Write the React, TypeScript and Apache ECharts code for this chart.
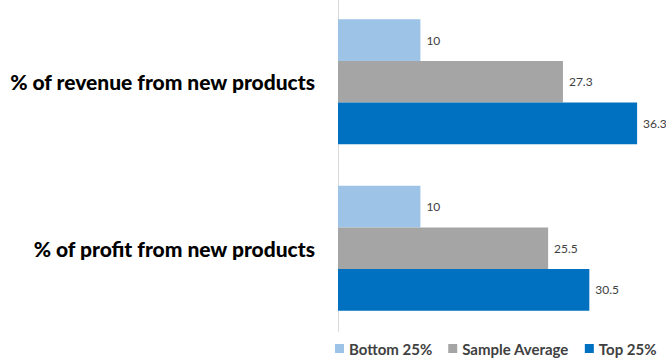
import React, { useEffect, useRef } from "react";
import * as echarts from "echarts";

const categories = ["% of revenue from new products", "% of profit from new products"];
const seriesNames = ["Bottom 25%", "Sample Average", "Top 25%"];
const bottom25 = [10, 10];
const sampleAverage = [27.3, 25.5];
const top25 = [36.3, 30.5];
const colors = ["#9DC3E6", "#A5A5A5", "#0070C0"];

export default function App() {
  const ref = useRef<HTMLDivElement>(null);
  useEffect(() => {
    if (!ref.current) return;
    const chart = echarts.init(ref.current, null, { renderer: "svg" });
    const values = [bottom25, sampleAverage, top25];
    chart.setOption({
      animation: false,
      backgroundColor: "#FFFFFF",
      grid: {
        left: 338,
        top: -1.5,
        width: 329.6,
        height: 333,
        containLabel: false,
        outerBoundsMode: "none",
      },
      xAxis: {
        type: "value",
        min: 0,
        max: 40,
        show: false,
        splitLine: { show: false },
      },
      yAxis: {
        type: "category",
        inverse: true,
        data: categories,
        axisLine: { show: true, lineStyle: { color: "#D9D9D9", width: 1 } },
        axisTick: { show: false },
        axisLabel: {
          margin: 23,
          color: "#000000",
          fontFamily: "Lato",
          fontWeight: 900,
          fontSize: 21,
        },
      },
      legend: {
        data: seriesNames,
        left: 335,
        top: 341,
        width: 331,
        padding: 0,
        icon: "rect",
        itemWidth: 9,
        itemHeight: 9,
        itemGap: 16,
        textStyle: {
          color: "#404040",
          fontFamily: "Lato",
          fontWeight: "bold",
          fontSize: 15,
        },
      },
      series: seriesNames.map((name, i) => ({
        name,
        type: "bar",
        data: values[i],
        barGap: "0%",
        barCategoryGap: "25%",
        itemStyle: { color: colors[i] },
        label: {
          show: true,
          position: "right",
          distance: 6,
          color: "#404040",
          fontFamily: "Lato",
          fontSize: 12,
        },
      })),
    });
    return () => chart.dispose();
  }, []);
  return (
    <div
      ref={ref}
      style={{ position: "fixed", left: 0, top: 0, width: 666, height: 362 }}
    />
  );
}
